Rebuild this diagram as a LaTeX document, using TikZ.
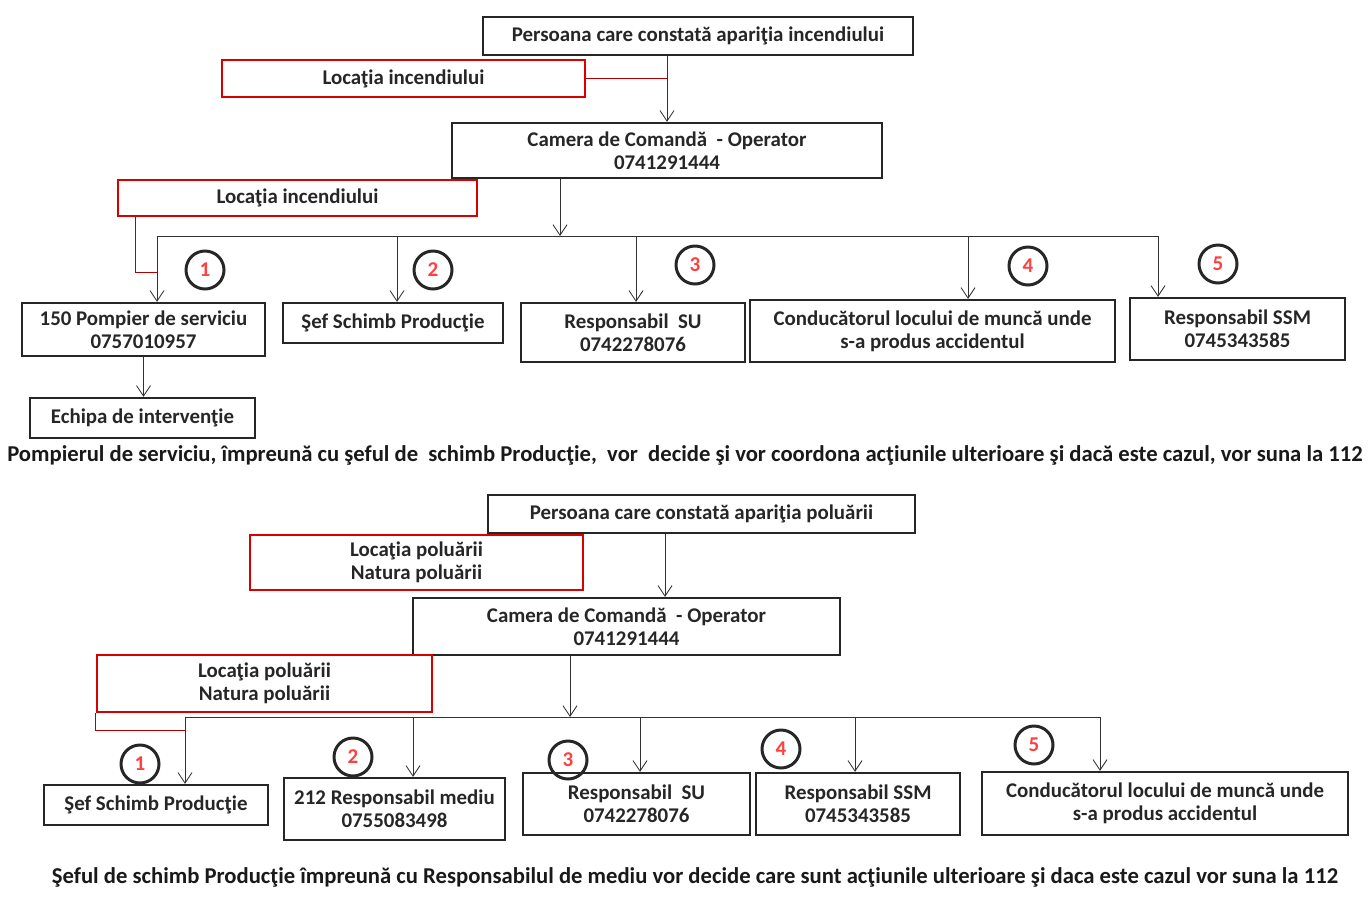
\documentclass[tikz,border=0pt]{standalone}
\usepackage{fontspec}
\setmainfont{Carlito}
\usetikzlibrary{arrows.meta, calc, positioning}

\def\u{0.02cm}

\tikzset{
  box/.style={draw=black!85, line width=1.3pt, align=center, inner sep=1pt,
    font=\bfseries\fontsize{11.9}{13}\selectfont, text=black!85},
  redbox/.style={box, draw=red!85!black},
  num/.style={circle, draw=black!85, line width=1.7pt, minimum size=38*\u, inner sep=0pt,
    font=\bfseries\fontsize{12}{12}\selectfont, text=red!75},
  arr/.style={-{Straight Barb[length=6pt,width=8pt]}, line width=0.5pt, black!80},
  redline/.style={red!70!black, line width=0.5pt},
  note/.style={font=\bfseries\fontsize{12.9}{14}\selectfont, text=black!90},
}

\begin{document}
\begin{tikzpicture}[x=\u, y=-\u]
    \useasboundingbox (0,0) rectangle (1369,896);

    % incendiu
    \begin{scope}
    \node[box, minimum width=430*\u, minimum height=38*\u] (A1) at (698,36) {Persoana care constată apariţia incendiului};
    \node[redbox, minimum width=363*\u, minimum height=37*\u] (R1) at (403.5,78.5) {Locaţia incendiului};
    \node[box, minimum width=430*\u, minimum height=55*\u] (B1) at (667,150.5) {Camera de Comandă \ - Operator\\0741291444};
    \node[redbox, minimum width=359*\u, minimum height=36*\u] (R2) at (297.5,198) {Locaţia incendiului};

    \node[box, minimum width=243*\u, minimum height=53*\u] (P1) at (143.5,329.5) {150 Pompier de serviciu\\0757010957};
    \node[box, minimum width=220*\u, minimum height=40*\u] (P2) at (393,323) {Şef Schimb Producţie};
    \node[box, minimum width=224*\u, minimum height=59*\u] (P3) at (633,332.5) {Responsabil \ SU\\0742278076};
    \node[box, minimum width=365*\u, minimum height=62*\u] (P4) at (932.5,331) {Conducătorul locului de muncă unde\\s-a produs accidentul};
    \node[box, minimum width=215*\u, minimum height=62*\u] (P5) at (1237.5,329) {Responsabil SSM\\0745343585};
    \node[box, minimum width=225*\u, minimum height=40*\u] (E1) at (142.5,418) {Echipa de intervenţie};

    \node[num] (n11) at (205,270) {1};
    \node[num] (n12) at (433,270) {2};
    \node[num] (n13) at (695,265) {3};
    \node[num] (n14) at (1028,266) {4};
    \node[num] (n15) at (1218,264) {5};

    \node[note] (S1) at (685,455) {Pompierul de serviciu, împreună cu şeful de \ schimb Producţie, \ vor \ decide şi vor coordona acţiunile ulterioare şi dacă este cazul, vor suna la 112};
    \end{scope}

    \coordinate (bus1) at (560,236);
    \coordinate (d11) at (157,236);
    \coordinate (d12) at (397,236);
    \coordinate (d13) at (636,236);
    \coordinate (d14) at (968,236);
    \coordinate (d15) at (1158,236);
    \coordinate (j1) at (157,272);

    \draw[arr] (B1.north |- A1.south) -- (B1.north);
    \draw[redline] (R1.east) -- (R1.east -| B1.north);
    \draw[arr] (bus1 |- B1.south) -- (bus1);
    \draw[line width=0.5pt, black!80] (d11) -- (d15);
    \draw[arr] (d11) -- (d11 |- P1.north);
    \draw[arr] (d12) -- (d12 |- P2.north);
    \draw[arr] (d13) -- (d13 |- P3.north);
    \draw[arr] (d14) -- (d14 |- P4.north);
    \draw[arr] (d15) -- (d15 |- P5.north);
    \draw[redline] ($(R2.south west)+(19,0)$) |- (j1);
    \draw[arr] (P1.south) -- (E1.north -| P1.south);

    % poluare
    \begin{scope}
    \node[box, minimum width=427*\u, minimum height=38*\u] (A2) at (701.5,514) {Persoana care constată apariţia poluării};
    \node[redbox, minimum width=333*\u, minimum height=55*\u] (R3) at (416.5,562.5) {Locaţia poluării\\Natura poluării};
    \node[box, minimum width=427*\u, minimum height=57*\u] (B2) at (626.5,626.5) {Camera de Comandă \ - Operator\\0741291444};
    \node[redbox, minimum width=335*\u, minimum height=57*\u] (R4) at (264.5,683.5) {Locaţia poluării\\Natura poluării};

    \node[box, minimum width=224*\u, minimum height=40*\u] (Q1) at (156,805) {Şef Schimb Producţie};
    \node[box, minimum width=221*\u, minimum height=62*\u] (Q2) at (394.5,809) {212 Responsabil mediu\\0755083498};
    \node[box, minimum width=227*\u, minimum height=62*\u] (Q3) at (636.5,804) {Responsabil \ SU\\0742278076};
    \node[box, minimum width=204*\u, minimum height=62*\u] (Q4) at (858,804) {Responsabil SSM\\0745343585};
    \node[box, minimum width=366*\u, minimum height=63*\u] (Q5) at (1165,803.5) {Conducătorul locului de muncă unde\\s-a produs accidentul};

    \node[num] (n21) at (140,764) {1};
    \node[num] (n22) at (353,757) {2};
    \node[num] (n23) at (568,760) {3};
    \node[num] (n24) at (781,749) {4};
    \node[num] (n25) at (1034,745) {5};

    \node[note] (S2) at (695,877) {Şeful de schimb Producţie împreună cu Responsabilul de mediu vor decide care sunt acţiunile ulterioare şi daca este cazul vor suna la 112};
    \end{scope}

    \coordinate (bus2) at (570,717);
    \coordinate (d21) at (185,717);
    \coordinate (d22) at (413,717);
    \coordinate (d23) at (640,717);
    \coordinate (d24) at (855,717);
    \coordinate (d25) at (1100,717);
    \coordinate (j2) at (185,730);

    \draw[arr] (665,0 |- A2.south) -- (665,0 |- B2.north);
    \draw[arr] (bus2 |- B2.south) -- (bus2);
    \draw[line width=0.5pt, black!80] (d21) -- (d25);
    \draw[arr] (d21) -- (d21 |- Q1.north);
    \draw[arr] (d22) -- (d22 |- Q2.north);
    \draw[arr] (d23) -- (d23 |- Q3.north);
    \draw[arr] (d24) -- (d24 |- Q4.north);
    \draw[arr] (d25) -- (d25 |- Q5.north);
    \draw[redline] (R4.south west) |- (j2);
\end{tikzpicture}
\end{document}
